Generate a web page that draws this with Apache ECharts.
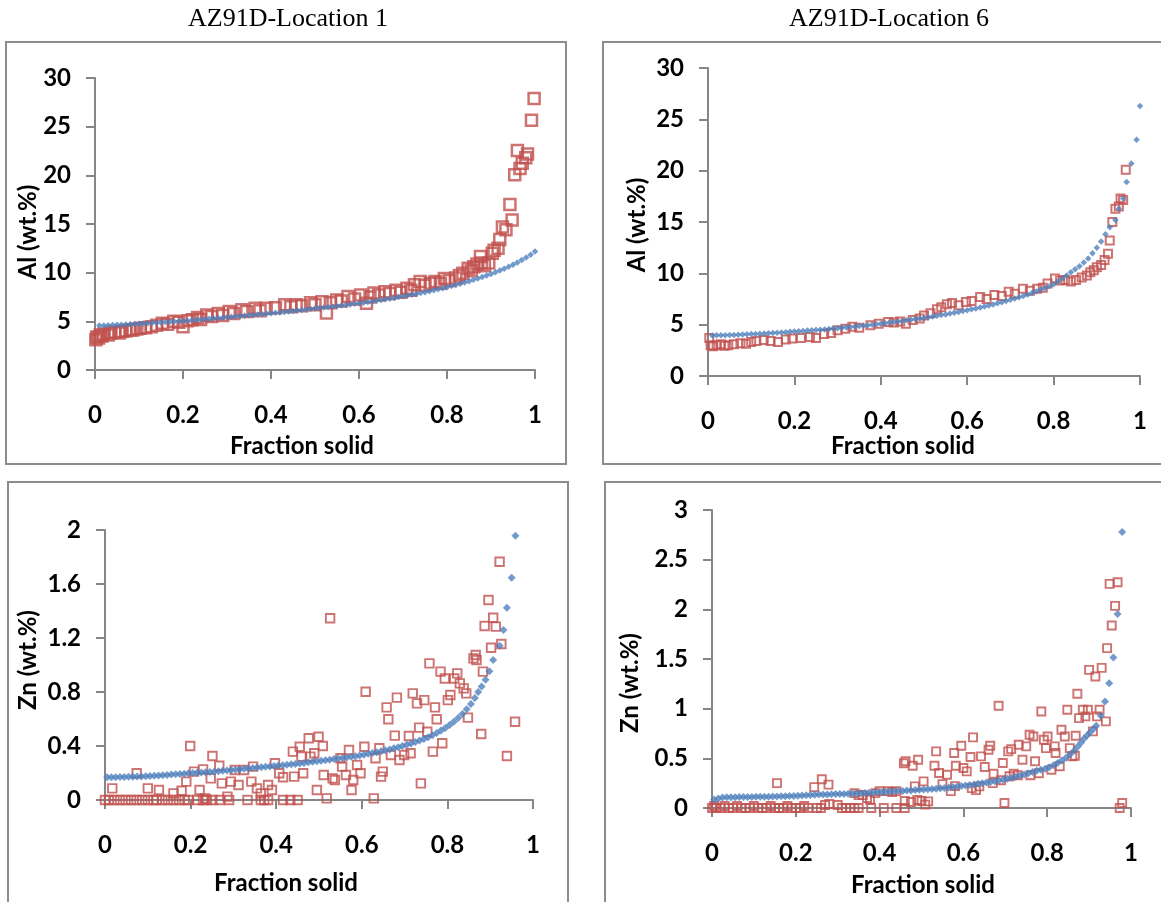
<!DOCTYPE html>
<html>
<head>
<meta charset="utf-8">
<script src="https://cdn.jsdelivr.net/npm/echarts@6/dist/echarts.min.js"></script>
<style>
  html, body { margin: 0; padding: 0; background: #fff; }
  #main { width: 1161px; height: 902px; }
</style>
</head>
<body>
<div id="main"></div>
<script>
// panel titles
let panelTitles = ['AZ91D-Location 1', 'AZ91D-Location 6']
let xName = 'Fraction solid'
let yNames = ['Al (wt.%)', 'Al (wt.%)', 'Zn (wt.%)', 'Zn (wt.%)']
// y axis ranges per panel [max, interval]
let yMax = [30, 30, 2, 3]
let yStep = [5, 5, 0.4, 0.5]

// Al, location 1 : simulated (blue) and measured (red)
let al1Sim = [
  [0.01,4.57],[0.02,4.58],[0.03,4.60],[0.04,4.62],[0.05,4.64],[0.06,4.66],[0.07,4.68],[0.08,4.70],[0.09,4.72],[0.10,4.74],
  [0.11,4.77],[0.12,4.80],[0.13,4.83],[0.14,4.86],[0.15,4.89],[0.16,4.92],[0.17,4.95],[0.18,4.98],[0.19,5.01],[0.20,5.04],
  [0.21,5.07],[0.22,5.10],[0.23,5.14],[0.24,5.18],[0.25,5.22],[0.26,5.26],[0.27,5.30],[0.28,5.34],[0.29,5.38],[0.30,5.42],
  [0.31,5.46],[0.32,5.50],[0.33,5.54],[0.34,5.58],[0.35,5.62],[0.36,5.66],[0.37,5.70],[0.38,5.74],[0.39,5.78],[0.40,5.83],
  [0.41,5.87],[0.42,5.91],[0.43,5.96],[0.44,6.01],[0.45,6.06],[0.46,6.11],[0.47,6.16],[0.48,6.21],[0.49,6.26],[0.50,6.31],
  [0.51,6.36],[0.52,6.41],[0.53,6.46],[0.54,6.51],[0.55,6.56],[0.56,6.62],[0.57,6.68],[0.58,6.74],[0.59,6.80],[0.60,6.86],
  [0.61,6.92],[0.62,6.98],[0.63,7.05],[0.64,7.12],[0.65,7.19],[0.66,7.26],[0.67,7.33],[0.68,7.41],[0.69,7.49],[0.70,7.57],
  [0.71,7.65],[0.72,7.73],[0.73,7.82],[0.74,7.91],[0.75,8.00],[0.76,8.09],[0.77,8.19],[0.78,8.29],[0.79,8.40],[0.80,8.51],
  [0.81,8.62],[0.82,8.74],[0.83,8.86],[0.84,8.99],[0.85,9.12],[0.86,9.26],[0.87,9.40],[0.88,9.55],[0.89,9.70],[0.90,9.86],
  [0.91,10.03],[0.92,10.21],[0.93,10.40],[0.94,10.60],[0.95,10.81],[0.96,11.04],[0.97,11.29],[0.98,11.56],[0.99,11.85],[1.00,12.17]
]
let al1Exp = [
  [0.002,3.1],[0.004,3.4],[0.008,3.3],[0.012,3.6],[0.016,3.5],[0.02,3.7],[0.03,3.6],[0.035,3.8],[0.045,3.9],[0.055,3.8],
  [0.061,3.95],[0.07,4.0],[0.08,4.1],[0.086,4.1],[0.095,4.2],[0.103,4.3],[0.115,4.35],[0.128,4.45],[0.14,4.6],[0.153,4.8],
  [0.165,4.7],[0.179,5.0],[0.19,4.9],[0.2,4.45],[0.21,5.05],[0.221,5.15],[0.233,5.4],[0.24,5.2],[0.254,5.65],[0.265,5.5],
  [0.28,5.8],[0.29,5.6],[0.305,6.0],[0.315,5.8],[0.334,6.2],[0.345,6.0],[0.364,6.35],[0.375,6.1],[0.389,6.35],[0.41,6.4],
  [0.431,6.7],[0.445,6.5],[0.457,6.7],[0.47,6.6],[0.49,6.9],[0.5,6.7],[0.516,7.0],[0.526,5.85],[0.535,6.9],[0.549,7.2],
  [0.56,7.1],[0.575,7.55],[0.59,7.3],[0.604,7.7],[0.617,6.85],[0.625,7.5],[0.634,7.9],[0.645,7.7],[0.659,8.05],[0.67,7.85],
  [0.684,8.2],[0.695,8.0],[0.709,8.4],[0.718,8.2],[0.726,8.75],[0.739,9.1],[0.75,8.7],[0.762,8.9],[0.773,9.1],[0.785,8.9],
  [0.794,9.4],[0.805,9.2],[0.82,9.45],[0.828,9.7],[0.836,9.95],[0.848,10.45],[0.855,10.2],[0.861,10.6],[0.868,10.9],[0.876,11.65],
  [0.878,11.0],[0.885,10.7],[0.895,11.0],[0.903,12.0],[0.907,12.3],[0.916,12.5],[0.92,13.4],[0.926,14.7],[0.934,14.4],[0.943,17.0],
  [0.948,15.4],[0.954,20.05],[0.96,22.55],[0.966,20.7],[0.971,21.25],[0.979,21.8],[0.983,22.2],[0.992,25.65],[0.998,27.9]
]

// Al, location 6
let al6Sim = [
  [0.01,3.95],[0.02,3.96],[0.03,3.97],[0.04,3.98],[0.05,3.99],[0.06,4.00],[0.07,4.02],[0.08,4.04],[0.09,4.06],[0.10,4.08],
  [0.11,4.10],[0.12,4.12],[0.13,4.14],[0.14,4.16],[0.15,4.18],[0.16,4.21],[0.17,4.24],[0.18,4.27],[0.19,4.30],[0.20,4.33],
  [0.21,4.36],[0.22,4.39],[0.23,4.42],[0.24,4.45],[0.25,4.48],[0.26,4.51],[0.27,4.54],[0.28,4.58],[0.29,4.62],[0.30,4.66],
  [0.31,4.70],[0.32,4.74],[0.33,4.78],[0.34,4.82],[0.35,4.86],[0.36,4.90],[0.37,4.95],[0.38,5.00],[0.39,5.05],[0.40,5.10],
  [0.41,5.15],[0.42,5.20],[0.43,5.25],[0.44,5.30],[0.45,5.36],[0.46,5.42],[0.47,5.48],[0.48,5.54],[0.49,5.60],[0.50,5.66],
  [0.51,5.72],[0.52,5.79],[0.53,5.86],[0.54,5.93],[0.55,6.00],[0.56,6.08],[0.57,6.16],[0.58,6.24],[0.59,6.32],[0.60,6.40],
  [0.61,6.49],[0.62,6.58],[0.63,6.67],[0.64,6.77],[0.65,6.87],[0.66,6.97],[0.67,7.08],[0.68,7.19],[0.69,7.30],[0.70,7.42],
  [0.71,7.54],[0.72,7.67],[0.73,7.80],[0.74,7.94],[0.75,8.08],[0.76,8.23],[0.77,8.39],[0.78,8.56],[0.79,8.74],[0.80,8.93],
  [0.81,9.20],[0.82,9.50],[0.83,9.80],[0.84,10.10],[0.85,10.40],[0.86,10.70],[0.87,11.05],[0.88,11.45],[0.89,11.95],[0.90,12.50],
  [0.91,13.10],[0.92,13.80],[0.93,14.50],[0.943,15.20],[0.951,16.30],[0.961,17.30],[0.969,18.90],[0.98,20.70],[0.992,23.00],[1.00,26.30]
]
let al6Exp = [
  [0.003,3.7],[0.006,3.0],[0.012,2.9],[0.02,3.0],[0.03,3.1],[0.038,2.95],[0.047,3.0],[0.06,3.1],[0.075,3.2],[0.088,3.15],
  [0.1,3.3],[0.112,3.4],[0.129,3.5],[0.145,3.4],[0.162,3.3],[0.18,3.55],[0.195,3.65],[0.215,3.7],[0.236,3.8],[0.25,3.7],
  [0.269,4.1],[0.285,4.2],[0.3,4.45],[0.318,4.6],[0.334,4.8],[0.35,4.7],[0.376,4.95],[0.395,5.1],[0.417,5.25],[0.43,5.2],
  [0.445,5.3],[0.458,5.1],[0.474,5.45],[0.49,5.6],[0.5,5.9],[0.515,6.1],[0.53,6.5],[0.54,6.7],[0.553,7.0],[0.565,7.1],
  [0.58,6.9],[0.597,7.2],[0.61,7.3],[0.63,7.7],[0.645,7.5],[0.663,7.9],[0.68,7.8],[0.696,8.2],[0.71,8.0],[0.729,8.5],
  [0.745,8.3],[0.762,8.5],[0.775,8.6],[0.786,9.0],[0.803,9.5],[0.815,9.3],[0.827,9.35],[0.84,9.2],[0.852,9.35],[0.865,9.6],
  [0.877,9.8],[0.885,10.1],[0.893,10.3],[0.9,10.6],[0.91,10.8],[0.918,11.3],[0.926,11.9],[0.93,13.2],[0.936,15.0],[0.943,16.3],
  [0.951,16.5],[0.955,17.3],[0.961,17.15],[0.967,20.1]
]

// Zn, location 1
let zn1Sim = [
  [0.005,0.168],[0.015,0.168],[0.025,0.169],[0.035,0.170],[0.045,0.171],[0.055,0.172],[0.065,0.173],[0.075,0.174],[0.085,0.175],[0.095,0.176],
  [0.105,0.178],[0.115,0.180],[0.125,0.182],[0.135,0.184],[0.145,0.186],[0.155,0.188],[0.165,0.190],[0.175,0.192],[0.185,0.195],[0.195,0.198],
  [0.205,0.200],[0.215,0.202],[0.225,0.204],[0.235,0.206],[0.245,0.208],[0.255,0.210],[0.265,0.213],[0.275,0.216],[0.285,0.219],[0.295,0.222],
  [0.305,0.225],[0.315,0.228],[0.325,0.231],[0.335,0.234],[0.345,0.237],[0.355,0.240],[0.365,0.243],[0.375,0.246],[0.385,0.249],[0.395,0.252],
  [0.405,0.255],[0.415,0.258],[0.425,0.261],[0.435,0.264],[0.445,0.267],[0.455,0.271],[0.465,0.275],[0.475,0.279],[0.485,0.283],[0.495,0.287],
  [0.505,0.291],[0.515,0.295],[0.525,0.299],[0.535,0.303],[0.545,0.307],[0.555,0.311],[0.565,0.315],[0.575,0.320],[0.585,0.325],[0.595,0.330],
  [0.605,0.336],[0.615,0.342],[0.625,0.348],[0.635,0.354],[0.645,0.361],[0.655,0.368],[0.665,0.375],[0.675,0.383],[0.685,0.391],[0.695,0.400],
  [0.705,0.409],[0.715,0.419],[0.725,0.429],[0.735,0.440],[0.745,0.452],[0.755,0.465],[0.765,0.480],[0.775,0.496],[0.785,0.514],[0.795,0.534],
  [0.805,0.556],[0.815,0.580],[0.825,0.607],[0.835,0.637],[0.845,0.672],[0.855,0.712],[0.864,0.755],[0.872,0.800],[0.880,0.840],[0.889,0.890],
  [0.898,0.953],[0.907,1.037],[0.922,1.143],[0.931,1.260],[0.939,1.425],[0.950,1.647],[0.959,1.958]
]
let zn1Exp = [
  [0.0,0],[0.009,0],[0.022,0],[0.035,0],[0.048,0],[0.061,0],[0.074,0],[0.087,0],[0.1,0],[0.113,0],
  [0.121,0],[0.134,0],[0.147,0],[0.16,0],[0.173,0],[0.186,0],[0.195,0],[0.216,0],[0.229,0],[0.238,0],
  [0.251,0],[0.268,0],[0.29,0],[0.333,0],[0.364,0],[0.372,0],[0.381,0],[0.416,0],[0.433,0],[0.45,0],
  [0.017,0.086],[0.074,0.198],[0.1,0.086],[0.126,0.074],[0.16,0.049],[0.179,0.069],[0.19,0.136],[0.199,0.4],[0.208,0.21],[0.221,0.074],
  [0.229,0.227],[0.234,0.012],[0.247,0.16],[0.251,0.326],[0.267,0.254],[0.273,0.123],[0.286,0.025],[0.294,0.136],[0.303,0.222],[0.312,0.111],
  [0.325,0.222],[0.342,0.136],[0.346,0.247],[0.355,0.086],[0.364,0.049],[0.381,0.111],[0.39,0.074],[0.397,0.272],[0.407,0.198],[0.416,0.168],
  [0.439,0.358],[0.442,0.173],[0.455,0.395],[0.459,0.321],[0.463,0.198],[0.476,0.457],[0.48,0.321],[0.489,0.346],[0.495,0.074],[0.499,0.469],
  [0.509,0.4],[0.511,0.185],[0.518,0.012],[0.526,1.346],[0.532,0.16],[0.537,0.148],[0.55,0.309],[0.554,0.247],[0.563,0.185],[0.57,0.37],
  [0.576,0.074],[0.58,0.148],[0.589,0.259],[0.597,0.198],[0.606,0.395],[0.609,0.802],[0.628,0.012],[0.632,0.309],[0.641,0.383],[0.645,0.173],
  [0.649,0.21],[0.658,0.686],[0.662,0.598],[0.668,0.333],[0.677,0.477],[0.682,0.758],[0.688,0.296],[0.699,0.333],[0.71,0.474],[0.714,0.346],
  [0.719,0.79],[0.729,0.716],[0.734,0.536],[0.738,0.123],[0.746,0.74],[0.753,0.506],[0.758,1.012],[0.766,0.358],[0.771,0.686],[0.775,0.598],
  [0.784,0.951],[0.788,0.42],[0.794,0.9],[0.801,0.74],[0.807,0.778],[0.816,0.9],[0.823,0.938],[0.829,0.864],[0.838,0.827],[0.844,0.79],
  [0.848,0.61],[0.861,1.049],[0.866,1.074],[0.868,1.037],[0.879,0.489],[0.883,0.951],[0.887,1.289],[0.896,1.481],[0.902,1.128],[0.907,1.35],
  [0.913,1.284],[0.922,1.765],[0.926,1.156],[0.939,0.326],[0.958,0.58]
]

// Zn, location 6
let zn6Sim = [
  [0.005,0.085],[0.015,0.095],[0.025,0.105],[0.035,0.107],[0.045,0.108],[0.055,0.109],[0.065,0.110],[0.075,0.110],[0.085,0.111],[0.095,0.111],
  [0.105,0.112],[0.115,0.112],[0.125,0.113],[0.135,0.114],[0.145,0.115],[0.155,0.116],[0.165,0.118],[0.175,0.119],[0.185,0.120],[0.195,0.122],
  [0.205,0.124],[0.215,0.126],[0.225,0.128],[0.235,0.131],[0.245,0.134],[0.255,0.135],[0.265,0.136],[0.275,0.137],[0.285,0.138],[0.295,0.140],
  [0.305,0.141],[0.315,0.142],[0.325,0.143],[0.335,0.145],[0.345,0.147],[0.355,0.149],[0.365,0.151],[0.375,0.153],[0.385,0.156],[0.395,0.159],
  [0.405,0.161],[0.415,0.164],[0.425,0.166],[0.435,0.168],[0.445,0.170],[0.455,0.172],[0.465,0.175],[0.475,0.177],[0.485,0.180],[0.495,0.183],
  [0.505,0.186],[0.515,0.189],[0.525,0.192],[0.535,0.195],[0.545,0.198],[0.555,0.202],[0.565,0.206],[0.575,0.211],[0.585,0.216],[0.595,0.221],
  [0.605,0.226],[0.615,0.231],[0.625,0.237],[0.635,0.243],[0.645,0.249],[0.655,0.256],[0.665,0.263],[0.675,0.270],[0.685,0.278],[0.695,0.286],
  [0.705,0.295],[0.715,0.304],[0.725,0.314],[0.735,0.325],[0.745,0.337],[0.755,0.350],[0.765,0.362],[0.775,0.375],[0.785,0.385],[0.795,0.395],
  [0.805,0.410],[0.815,0.430],[0.825,0.452],[0.835,0.477],[0.845,0.505],[0.855,0.540],[0.865,0.580],[0.873,0.620],[0.881,0.660],[0.888,0.700],
  [0.895,0.730],[0.902,0.760],[0.910,0.795],[0.917,0.828],[0.928,0.929],[0.938,1.073],[0.948,1.257],[0.958,1.515],[0.968,1.954],[0.979,2.779]
]
let zn6Exp = [
  [0.0,0],[0.005,0.02],[0.01,0],[0.02,0],[0.03,0.02],[0.04,0],[0.05,0],[0.06,0.02],[0.07,0],[0.08,0],
  [0.09,0],[0.1,0.02],[0.11,0],[0.12,0],[0.13,0],[0.14,0.02],[0.15,0],[0.16,0],[0.17,0],[0.18,0.02],
  [0.19,0],[0.2,0],[0.21,0],[0.22,0.02],[0.23,0],[0.25,0],[0.26,0],[0.27,0.03],[0.28,0.04],[0.3,0.03],
  [0.31,0],[0.32,0],[0.33,0],[0.34,0],[0.35,0],[0.38,0],[0.41,0],[0.44,0],[0.46,0],
  [0.155,0.25],[0.244,0.21],[0.262,0.29],[0.278,0.235],[0.34,0.15],[0.35,0.13],[0.36,0.13],[0.37,0.1],[0.377,0.084],[0.39,0.15],
  [0.4,0.17],[0.42,0.17],[0.43,0.16],[0.44,0.17],[0.46,0.07],[0.475,0.06],[0.49,0.08],[0.5,0.07],
  [0.458,0.45],[0.462,0.47],[0.479,0.426],[0.484,0.218],[0.492,0.486],[0.505,0.268],[0.509,0.034],[0.516,0.067],[0.531,0.426],[0.535,0.57],
  [0.542,0.352],[0.55,0.24],[0.561,0.335],[0.57,0.17],[0.578,0.553],[0.58,0.22],[0.582,0.426],[0.595,0.627],[0.6,0.402],[0.608,0.369],
  [0.617,0.513],[0.62,0.2],[0.623,0.711],[0.63,0.18],[0.638,0.218],[0.642,0.52],[0.651,0.412],[0.66,0.587],[0.664,0.627],[0.67,0.25],
  [0.672,0.345],[0.684,1.029],[0.69,0.28],[0.694,0.453],[0.698,0.05],[0.707,0.57],[0.71,0.32],[0.714,0.593],[0.72,0.345],[0.73,0.33],
  [0.732,0.637],[0.741,0.486],[0.75,0.62],[0.758,0.738],[0.76,0.33],[0.767,0.72],[0.771,0.47],[0.78,0.35],[0.786,0.972],[0.792,0.687],
  [0.797,0.603],[0.801,0.72],[0.81,0.385],[0.818,0.62],[0.82,0.553],[0.83,0.42],[0.834,0.788],[0.842,0.72],[0.848,0.989],[0.854,0.603],
  [0.86,0.52],[0.866,0.526],[0.868,0.727],[0.872,1.15],[0.876,0.905],[0.885,0.989],[0.891,0.922],[0.897,0.989],[0.9,1.391],[0.909,0.771],
  [0.915,1.324],[0.919,0.922],[0.925,0.989],[0.93,1.411],[0.94,0.872],[0.943,1.609],[0.949,2.256],[0.954,1.837],[0.962,2.035],[0.968,2.273],
  [0.973,0],[0.979,0.05]
]

let simSets = [al1Sim, al6Sim, zn1Sim, zn6Sim]
let expSets = [al1Exp, al6Exp, zn1Exp, zn6Exp]

let blue = '#4F81BD'
let red = '#C0504D'
let axisGray = '#868686'
let frameGray = '#8c8c8c'
let labelFont = 'Lato'
let labelSize = 24

// grid boxes in pixels
let grids = [
  { left: 95, top: 78, width: 440, height: 292 },
  { left: 708, top: 68, width: 432, height: 308 },
  { left: 105, top: 530, width: 428, height: 270 },
  { left: 712, top: 510, width: 419, height: 298 }
]
let redSize = [11, 8, 8.5, 8]
let redBorder = [2.5, 2, 1.9, 1.9]
let blueSize = [6.5, 6.5, 8, 8]

let chart = echarts.init(document.getElementById('main'), null, { renderer: 'canvas' })

let xAxes = []
let yAxes = []
let series = []
for (let i = 0; i < 4; i++) {
  xAxes.push({
    gridIndex: i,
    type: 'value',
    min: 0,
    max: 1,
    interval: 0.2,
    axisLine: { lineStyle: { color: axisGray, width: 2 } },
    axisTick: { length: 9, lineStyle: { color: axisGray, width: 2 } },
    axisLabel: { margin: 33, color: '#000', fontFamily: labelFont, fontWeight: 'bold', fontSize: labelSize },
    splitLine: { show: false }
  })
  yAxes.push({
    gridIndex: i,
    type: 'value',
    min: 0,
    max: yMax[i],
    interval: yStep[i],
    axisLine: { show: true, lineStyle: { color: axisGray, width: 2 } },
    axisTick: { show: true, length: 9, lineStyle: { color: axisGray, width: 2 } },
    axisLabel: { margin: 24, color: '#000', fontFamily: labelFont, fontWeight: 'bold', fontSize: labelSize },
    splitLine: { show: false }
  })
  series.push({
    name: 'measured',
    type: 'scatter',
    xAxisIndex: i,
    yAxisIndex: i,
    symbol: 'rect',
    symbolSize: redSize[i],
    itemStyle: { color: 'rgba(0,0,0,0)', borderColor: red, borderWidth: redBorder[i] },
    data: expSets[i]
  })
  series.push({
    name: 'Scheil',
    type: 'scatter',
    xAxisIndex: i,
    yAxisIndex: i,
    symbol: 'diamond',
    symbolSize: blueSize[i],
    itemStyle: { color: blue },
    data: simSets[i]
  })
}

// frames + axis titles
let frames = [
  [6, 42, 560, 422],
  [603, 42, 570, 422],
  [8, 482, 560, 440],
  [605, 482, 570, 440]
]
let graphic = frames.map(f => ({
  type: 'rect',
  shape: { x: f[0], y: f[1], width: f[2], height: f[3] },
  style: { fill: 'none', stroke: frameGray, lineWidth: 2 },
  silent: true
}))
let xTitlePos = [[302, 446], [903, 446], [286, 883], [923, 885]]
let yTitlePos = [[28, 232], [637, 225], [28, 660], [630, 683]]
for (let i = 0; i < 4; i++) {
  graphic.push({
    type: 'text',
    x: xTitlePos[i][0],
    y: xTitlePos[i][1],
    style: {
      text: xName, fill: '#000', fontFamily: labelFont, fontWeight: 'bold', fontSize: labelSize,
      align: 'center', verticalAlign: 'middle'
    }
  })
  graphic.push({
    type: 'text',
    x: yTitlePos[i][0],
    y: yTitlePos[i][1],
    rotation: Math.PI / 2,
    style: {
      text: yNames[i], fill: '#000', fontFamily: labelFont, fontWeight: 'bold', fontSize: labelSize,
      align: 'center', verticalAlign: 'middle'
    }
  })
}

let option = {
  animation: false,
  backgroundColor: '#fff',
  title: [
    { text: panelTitles[0], left: 283, top: 1, textAlign: 'center',
      textStyle: { fontFamily: 'Liberation Serif', fontWeight: 'normal', fontSize: 26, color: '#000' } },
    { text: panelTitles[1], left: 884, top: 1, textAlign: 'center',
      textStyle: { fontFamily: 'Liberation Serif', fontWeight: 'normal', fontSize: 26, color: '#000' } }
  ],
  grid: grids,
  xAxis: xAxes,
  yAxis: yAxes,
  series: series,
  graphic: graphic
}
chart.setOption(option)
</script>
</body>
</html>
